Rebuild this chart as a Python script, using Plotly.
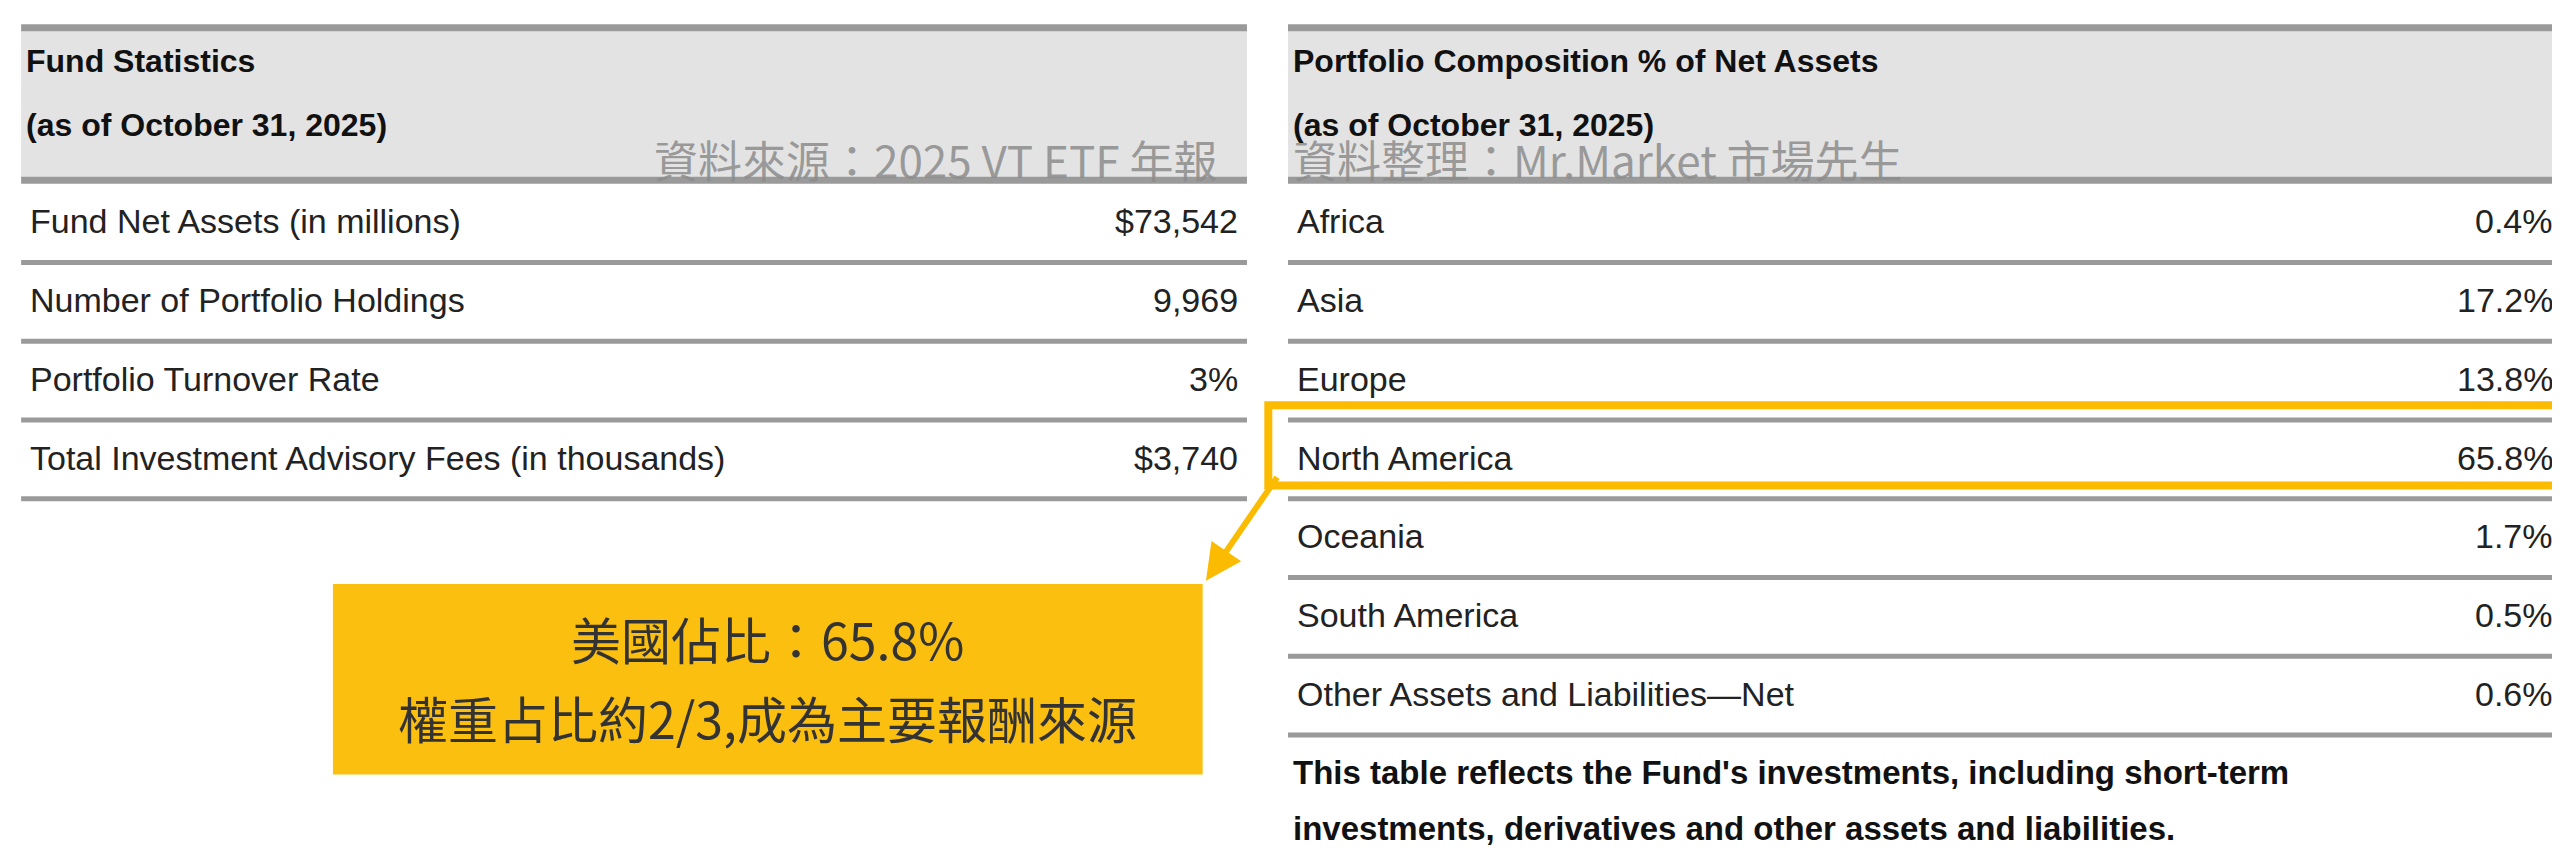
import plotly.graph_objects as go

left_title = ["Fund Statistics", "(as of October 31, 2025)"]
left_labels = ["Fund Net Assets (in millions)", "Number of Portfolio Holdings",
               "Portfolio Turnover Rate", "Total Investment Advisory Fees (in thousands)"]
left_values = ["$73,542", "9,969", "3%", "$3,740"]

right_title = ["Portfolio Composition % of Net Assets", "(as of October 31, 2025)"]
right_labels = ["Africa", "Asia", "Europe", "North America", "Oceania",
                "South America", "Other Assets and Liabilities\u2014Net"]
right_values = ["0.4%", "17.2%", "13.8%", "65.8%", "1.7%", "0.5%", "0.6%"]
highlight = "North America"

footnote = ["This table reflects the Fund's investments, including short-term",
            "investments, derivatives and other assets and liabilities."]
source_note = "資料來源：2025 VT ETF 年報"
editor_note = "資料整理：Mr.Market 市場先生"
callout = ["美國佔比：65.8%", "權重占比約2/3,成為主要報酬來源"]

W, H = 1560, 524
fig = go.Figure()
shapes, ann = [], []
ARIAL = "Liberation Sans, Arial"
CJK = "Noto Sans CJK TC"
GRAY = "#9a9a9a"
ROW0, ROWH = 107, 48

def text(x, y, t, anchor, family, size, color):
    ann.append(dict(x=x, y=y, text=t, xanchor=anchor, yanchor="middle", showarrow=False,
                    font=dict(family=family, size=size, color=color)))

def table(x0, x1, title, labels, values):
    shapes.append(dict(type="rect", x0=x0, x1=x1, y0=12, y1=105, fillcolor="#e3e3e3", line_width=0, layer="below"))
    shapes.append(dict(type="line", x0=x0, x1=x1, y0=12, y1=12, line=dict(color=GRAY, width=7)))
    shapes.append(dict(type="line", x0=x0, x1=x1, y0=105, y1=105, line=dict(color=GRAY, width=7)))
    for i, t in enumerate(title):
        text(x0 + 2, 32 + 39 * i, "<b>%s</b>" % t, "left", ARIAL, 32, "#111")
    for i, (l, v) in enumerate(zip(labels, values)):
        yc = ROW0 + ROWH * i + 23
        text(x0 + 4, yc, l, "left", ARIAL, 34, "#222")
        text(x1 - 4, yc, v, "right", ARIAL, 34, "#222")
        yl = ROW0 + ROWH * (i + 1)
        shapes.append(dict(type="line", x0=x0, x1=x1, y0=yl, y1=yl, line=dict(color=GRAY, width=5)))

table(8, 755, left_title, left_labels, left_values)
table(780, 1556, right_title, right_labels, right_values)

hi = right_labels.index(highlight)
shapes.append(dict(type="rect", x0=768, x1=1559, y0=ROW0 + ROWH * hi - 9, y1=ROW0 + ROWH * (hi + 1) - 8,
                   line=dict(color="#fbbb00", width=8)))

for i, t in enumerate(footnote):
    text(782, 466 + 34 * i, "<b>%s</b>" % t, "left", ARIAL, 33, "#111")

text(738, 92, source_note, "right", CJK, 44, "rgba(140,140,140,0.85)")
text(782, 92, editor_note, "left", CJK, 44, "rgba(140,140,140,0.85)")

shapes.append(dict(type="rect", x0=198, x1=728, y0=351, y1=467, fillcolor="#fbbf0f", line_width=0))
for i, t in enumerate(callout):
    text(463, 384 + 48 * i, t, "center", CJK, 50, "#333")

ann.append(dict(x=730, y=349, ax=774, ay=285, xref="x", yref="y", axref="x", ayref="y",
                text="", showarrow=True, arrowhead=2, arrowsize=1.2, arrowwidth=6, arrowcolor="#fbbb00"))

fig.update_layout(width=2560, height=860, margin=dict(l=0, r=0, t=0, b=0),
                  plot_bgcolor="white", paper_bgcolor="white", shapes=shapes, annotations=ann,
                  xaxis=dict(range=[0, W], visible=False, fixedrange=True),
                  yaxis=dict(range=[H, 0], visible=False, fixedrange=True),
                  showlegend=False)
fig.write_html("out.html")
